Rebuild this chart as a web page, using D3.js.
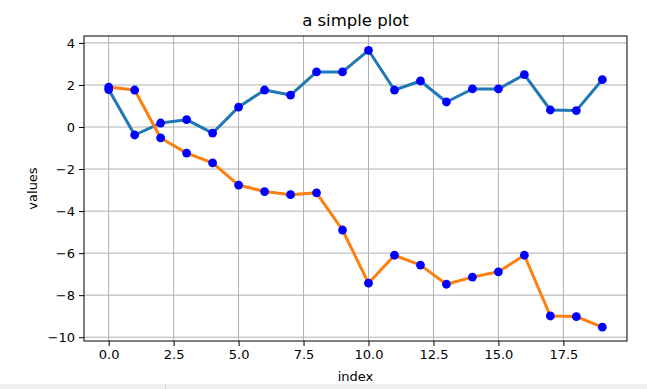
<!DOCTYPE html>
<html>
<head>
<meta charset="utf-8">
<script src="https://cdn.jsdelivr.net/npm/d3@7"></script>
<style>
  body { margin: 0; background: #fff; }
  text { font-family: "DejaVu Sans", sans-serif; fill: #000; }
</style>
</head>
<body>
<div id="chart"></div>
<script>
// values
const index = d3.range(20);
const seriesA = [1.78, -0.38, 0.19, 0.35, -0.29, 0.95, 1.76, 1.52, 2.62, 2.62,
                 3.65, 1.76, 2.19, 1.19, 1.81, 1.81, 2.49, 0.81, 0.78, 2.25];
const seriesB = [1.90, 1.76, -0.52, -1.24, -1.71, -2.76, -3.07, -3.22, -3.13, -4.90,
                 -7.43, -6.10, -6.57, -7.48, -7.14, -6.89, -6.10, -8.99, -9.02, -9.52];
const xTicks = [0, 2.5, 5, 7.5, 10, 12.5, 15, 17.5];
const yTicks = [4, 2, 0, -2, -4, -6, -8, -10];

const width = 647, height = 389;
const margin = {top: 36, right: 20, bottom: 48, left: 84};

const svg = d3.select("#chart").append("svg")
    .attr("width", width)
    .attr("height", height);

// toolbar strip at the bottom of the window
svg.append("rect").attr("x", 0).attr("y", 384).attr("width", width).attr("height", 5).attr("fill", "#f0f0f0");
svg.append("line").attr("x1", 165.5).attr("x2", 165.5).attr("y1", 384).attr("y2", 389).attr("stroke", "#d8d8d8");

const x = d3.scaleLinear().domain([-0.95, 19.95]).range([margin.left, width - margin.right]);
const y = d3.scaleLinear().domain([-10.18, 4.33]).range([height - margin.bottom, margin.top]);

const g = svg.append("g");

// grid
g.selectAll(".gx").data(xTicks).enter().append("line")
    .attr("x1", d => x(d)).attr("x2", d => x(d))
    .attr("y1", margin.top).attr("y2", height - margin.bottom)
    .attr("stroke", "#b0b0b0").attr("stroke-width", 1);
g.selectAll(".gy").data(yTicks).enter().append("line")
    .attr("x1", margin.left).attr("x2", width - margin.right)
    .attr("y1", d => y(d)).attr("y2", d => y(d))
    .attr("stroke", "#b0b0b0").attr("stroke-width", 1);

const line = d3.line().x((d, i) => x(index[i])).y(d => y(d));

[[seriesA, "#1f77b4"], [seriesB, "#ff7f0e"]].forEach(([s, c]) => {
    g.append("path").datum(s)
        .attr("d", line)
        .attr("fill", "none")
        .attr("stroke", c)
        .attr("stroke-width", 3)
        .attr("stroke-linejoin", "round")
        .attr("stroke-linecap", "square");
    g.selectAll(null).data(s).enter().append("circle")
        .attr("cx", (d, i) => x(index[i]))
        .attr("cy", d => y(d))
        .attr("r", 4.4)
        .attr("fill", "#0000ff");
});

// axes
const fmtX = d3.format(".1f");
const fmtY = d => d3.format("d")(d).replace("-", "\u2212");
svg.append("g")
    .attr("transform", `translate(0,${height - margin.bottom})`)
    .call(d3.axisBottom(x).tickValues(xTicks).tickFormat(fmtX).tickSizeOuter(0).tickSize(5).tickPadding(4))
    .call(a => a.select(".domain").remove())
    .selectAll("text").style("font-size", "13px").style("font-family", "DejaVu Sans");
svg.append("g")
    .attr("transform", `translate(${margin.left},0)`)
    .call(d3.axisLeft(y).tickValues(yTicks).tickFormat(fmtY).tickSizeOuter(0).tickSize(5).tickPadding(4))
    .call(a => a.select(".domain").remove())
    .selectAll("text").style("font-size", "13px").style("font-family", "DejaVu Sans");

svg.append("rect")
    .attr("x", margin.left).attr("y", margin.top)
    .attr("width", width - margin.right - margin.left)
    .attr("height", height - margin.bottom - margin.top)
    .attr("fill", "none").attr("stroke", "#000").attr("stroke-width", 1);

const cx = (margin.left + width - margin.right) / 2;
svg.append("text").attr("x", cx).attr("y", 26)
    .attr("text-anchor", "middle").style("font-size", "16.5px").text("a simple plot");
svg.append("text").attr("x", cx).attr("y", 381)
    .attr("text-anchor", "middle").style("font-size", "13px").text("index");
svg.append("text")
    .attr("transform", `translate(37,${(margin.top + height - margin.bottom) / 2}) rotate(-90)`)
    .attr("text-anchor", "middle").style("font-size", "13px").text("values");
</script>
</body>
</html>
